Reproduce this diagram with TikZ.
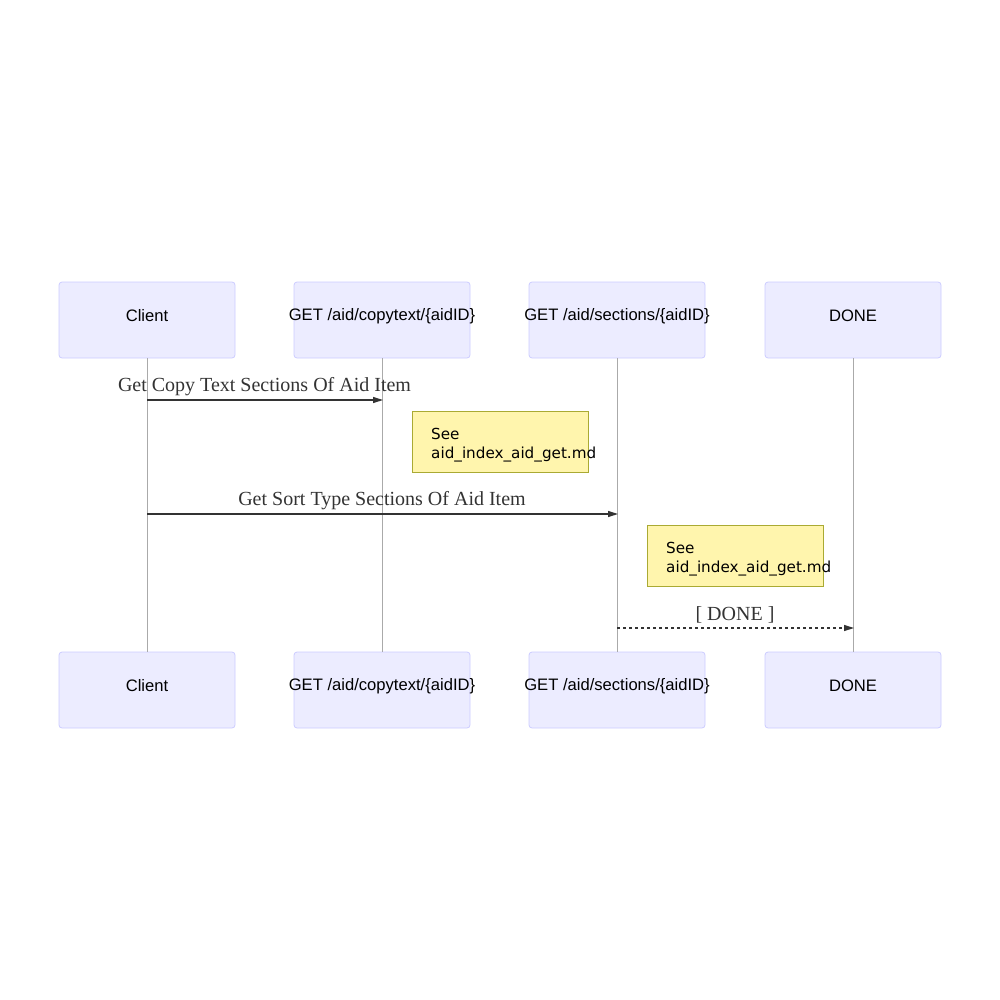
\documentclass[tikz,border=0pt]{standalone}
\usepackage{fontspec}
\setmainfont{Liberation Serif}
\newfontfamily\actorfont{Liberation Sans}
\newfontfamily\notefont{DejaVu Sans}
\usetikzlibrary{arrows.meta}
\definecolor{actfill}{HTML}{ECECFF}
\definecolor{actdraw}{HTML}{CCCCFF}
\definecolor{notefill}{HTML}{FFF5AD}
\definecolor{notedraw}{HTML}{AAAA33}
\definecolor{msgcol}{HTML}{333333}
\definecolor{lifecol}{HTML}{AAAAAA}
\tikzset{
  actor/.style={draw=actdraw, fill=actfill, rounded corners=3pt, minimum width=176pt, minimum height=76pt, inner sep=0pt, line width=0.8pt},
  actortext/.style={font=\actorfont\fontsize{16.6}{19}\selectfont, inner sep=0pt},
  notebox/.style={draw=notedraw, fill=notefill, minimum width=176pt, minimum height=61pt, inner sep=0pt, line width=0.8pt},
  notetext/.style={font=\notefont\fontsize{15.2}{19}\selectfont, align=left, anchor=north west, inner sep=0pt},
  lifeline/.style={draw=lifecol, line width=0.7pt},
  msg/.style={draw=msgcol, line width=1.3pt, -{Triangle[length=10pt,width=6pt]}},
  msglabel/.style={font=\fontsize{20}{22}\selectfont, text=msgcol, inner sep=0pt}
}
\begin{document}
\begin{tikzpicture}[x=1pt,y=-1pt]
\useasboundingbox (0,0) rectangle (1000,1000);
% top actors
\node[actor] (a1) at (147,320) {};
\node[actor] (a2) at (382,320) {};
\node[actor] (a3) at (617,320) {};
\node[actor] (a4) at (853,320) {};
\node[actortext] (ta1) at (147,316) {Client};
\node[actortext] (ta2) at (382,316) {GET /aid/copytext/\{aidID\}};
\node[actortext] (ta3) at (617,316) {GET /aid/sections/\{aidID\}};
\node[actortext] (ta4) at (853,316) {DONE};
% bottom actors
\node[actor] (b1) at (147,690) {};
\node[actor] (b2) at (382,690) {};
\node[actor] (b3) at (617,690) {};
\node[actor] (b4) at (853,690) {};
\node[actortext] (tb1) at (147,686) {Client};
\node[actortext] (tb2) at (382,686) {GET /aid/copytext/\{aidID\}};
\node[actortext] (tb3) at (617,686) {GET /aid/sections/\{aidID\}};
\node[actortext] (tb4) at (853,686) {DONE};
% lifelines
\draw[lifeline] (a1.south) -- (b1.north);
\draw[lifeline] (a2.south) -- (b2.north);
\draw[lifeline] (a3.south) -- (b3.north);
\draw[lifeline] (a4.south) -- (b4.north);
% message points
\coordinate (m1s) at (147,400);
\coordinate (m1e) at (383,400);
\coordinate (m2s) at (147,514);
\coordinate (m2e) at (618,514);
\coordinate (m3s) at (617,628);
\coordinate (m3e) at (854,628);
\draw[msg] (m1s) -- (m1e);
\node[msglabel] (l1) at (264.5,387) {Get Copy Text Sections Of Aid Item};
\draw[msg] (m2s) -- (m2e);
\node[msglabel] (l2) at (382,501) {Get Sort Type Sections Of Aid Item};
\draw[msg, dashed, dash pattern=on 3pt off 3pt] (m3s) -- (m3e);
\node[msglabel] (l3) at (735,615) {[ DONE ]};
% notes
\node[notebox] (n1) at (500,441.5) {};
\node[notetext] (t1) at (431,428) {See\\aid\_index\_aid\_get.md};
\node[notebox] (n2) at (735,556) {};
\node[notetext] (t2) at (666,542.5) {See\\aid\_index\_aid\_get.md};
\end{tikzpicture}
\end{document}
